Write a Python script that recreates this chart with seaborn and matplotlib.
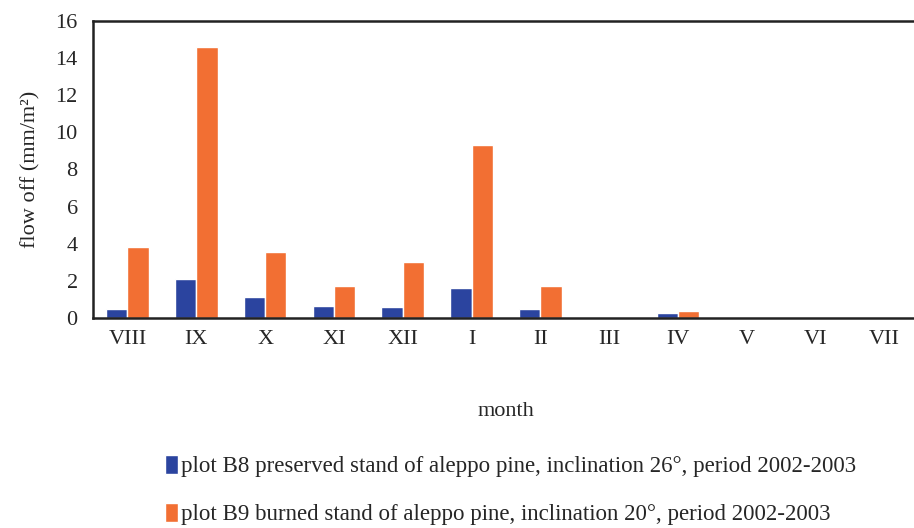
import pandas as pd
import numpy as np
import matplotlib
matplotlib.use('Agg')
import matplotlib.pyplot as plt
import seaborn as sns

# values
months = ['VIII', 'IX', 'X', 'XI', 'XII', 'I', 'II', 'III', 'IV', 'V', 'VI', 'VII']
b8_flow = [0.5, 2.1, 1.15, 0.65, 0.6, 1.6, 0.5, 0.0, 0.25, 0.0, 0.0, 0.0]
b9_flow = [3.85, 14.6, 3.55, 1.75, 3.0, 9.3, 1.75, 0.0, 0.38, 0.0, 0.0, 0.0]
series_names = ['plot B8 preserved stand of aleppo pine, inclination 26°, period 2002-2003',
                'plot B9 burned stand of aleppo pine, inclination 20°, period 2002-2003']
colors = ['#2B449F', '#F26F33']

df = pd.DataFrame({
    'month': months * 2,
    'flow': b8_flow + b9_flow,
    'plot': [series_names[0]] * len(months) + [series_names[1]] * len(months),
})

sns.set_style('white')
plt.rcParams['font.family'] = ['Liberation Serif', 'DejaVu Serif']
fs = 16

fig = plt.figure(figsize=(9.14, 5.28), dpi=100)
ax = fig.add_axes([93 / 914, 1 - 318 / 528, (919 - 93) / 914, (318 - 21) / 528])

sns.barplot(data=df, x='month', y='flow', hue='plot', palette=colors, order=months,
            width=0.62, saturation=1, ax=ax, legend=True)

ax.set_ylim(0, 16)
ax.set_xlim(-0.5, len(months) - 0.5)
ax.set_yticks(np.arange(0, 17, 2))
ax.set_xticks(np.arange(-0.5, len(months), 1), minor=True)
ax.tick_params(axis='x', which='major', length=0, pad=9, labelsize=fs)
ax.tick_params(axis='x', which='minor', length=5, width=1.6, direction='out', color='#222222')
ax.tick_params(axis='y', length=5, width=1.6, direction='out', color='#222222', pad=6, labelsize=fs)

for side in ['left', 'bottom', 'top']:
    ax.spines[side].set_visible(True)
    ax.spines[side].set_linewidth(1.8)
    ax.spines[side].set_color('#222222')
ax.spines['right'].set_visible(False)

ax.set_xlabel('month', fontsize=fs, labelpad=38)
ax.set_ylabel('flow off (mm/m²)', fontsize=fs, labelpad=11)

handles, labels = ax.get_legend_handles_labels()
ax.get_legend().remove()
fig.legend(handles, labels, loc='center left', bbox_to_anchor=(165 / 914, 1 - 490 / 528),
           frameon=False, fontsize=16.5, handlelength=0.55, handleheight=0.9,
           handletextpad=0.15, labelspacing=1.1, borderpad=0, borderaxespad=0)

fig.savefig('out.png', dpi=100)
